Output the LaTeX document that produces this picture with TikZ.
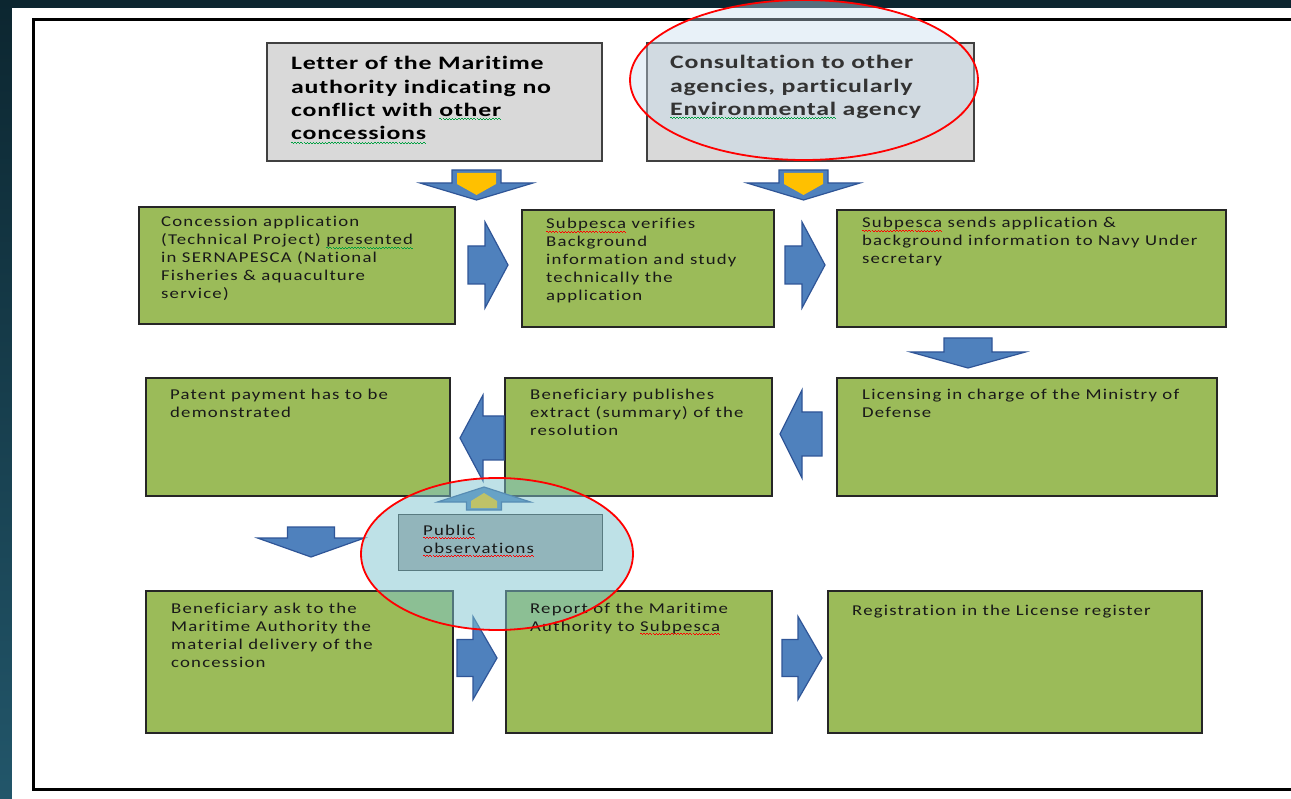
\documentclass[tikz,border=0pt]{standalone}
\usepackage{fontspec}
\setmainfont{Carlito}
\newfontfamily\boxfont[FakeStretch=1.25,LetterSpace=8,Ligatures=NoCommon]{Carlito}
\newfontfamily\headfont[FakeStretch=1.36,LetterSpace=4,Ligatures=NoCommon]{Carlito}
\newcommand\wavy[2]{\setbox0\hbox{#2}\rlap{\color{#1}\lower3pt\hbox to \wd0{\xleaders\hbox to 3pt{\vrule width 1.5pt height 1.1pt depth -0.3pt\vrule width 1.5pt height 0.3pt depth 0.5pt}\hfil}}\box0\relax}
\newcommand\redwave[1]{\wavy{red}{#1}}
\newcommand\greenwave[1]{\wavy{grammargreen}{#1}}
\newcommand\ml[1]{\begin{tabular}[t]{@{}l@{}}#1\end{tabular}}
\definecolor{bgtop}{HTML}{0C2630}
\definecolor{bgbot}{HTML}{22566A}
\definecolor{graybox}{HTML}{D9D9D9}
\definecolor{greenfill}{HTML}{9BBB59}
\definecolor{arrowblue}{HTML}{4F81BD}
\definecolor{arrowedge}{HTML}{2F5597}
\definecolor{arrowyellow}{HTML}{FFC000}
\definecolor{tintone}{HTML}{C6DCEF}
\definecolor{tinttwo}{HTML}{7FC4D0}
\definecolor{pubgray}{HTML}{A6A6A6}
\definecolor{grammargreen}{HTML}{00A040}
\begin{document}
\begin{tikzpicture}[x=1pt,y=-1pt,
  topbox/.style={draw=black!75, line width=1.6pt, fill=graybox, anchor=north west, inner sep=0pt},
  greenbox/.style={draw=black!85, line width=1.6pt, fill=greenfill, anchor=north west, inner sep=0pt},
  pubbox/.style={draw=black!80, line width=1.4pt, fill=pubgray, anchor=north west, inner sep=0pt},
  headtxt/.style={anchor=base west, inner sep=0pt, font=\headfont\bfseries\fontsize{19}{23.3}\selectfont},
  boxtxt/.style={anchor=base west, inner sep=0pt, text=black!90, font=\boxfont\fontsize{15}{18}\selectfont},
  blockarrow/.style={fill=arrowblue, draw=arrowedge, line width=1.2pt, line join=miter},
  yellowpart/.style={fill=arrowyellow, draw=none},
  redring/.style={draw=red, line width=1.8pt},
  pics/varrow/.style args={#1/#2/#3/#4}{code={%
    \path[blockarrow] (-#1,-#2) -- (#1,-#2) -- (#1,0) -- (#3,0) -- (0,#4) -- (-#3,0) -- (-#1,0) -- cycle;}},
  pics/vyellow/.style args={#1/#2/#3}{code={%
    \path[yellowpart] (-#1,-#2) -- (#1,-#2) -- (#1,1) -- (0,#3) -- (-#1,1) -- cycle;}},
  pics/harrow/.style args={#1/#2/#3/#4}{code={%
    \path[blockarrow] (-#2,-#1) -- (0,-#1) -- (0,-#3) -- (#4,0) -- (0,#3) -- (0,#1) -- (-#2,#1) -- cycle;}},
]
\useasboundingbox (0,0) rectangle (1291,799);
% slide background
\shade[top color=bgtop, bottom color=bgbot] (0,0) rectangle (1291,799);
\fill[white] (12,8) rectangle (1291,799);
\draw[line width=3pt] (1291,20) -- (33,20) -- (33,789) -- (1291,789);

% boxes
\node[topbox, minimum width=335pt, minimum height=118pt] (letter) at (266,42) {};
\node[topbox, minimum width=327pt, minimum height=118pt] (consult) at (646,42) {};
\node[greenbox, minimum width=316pt, minimum height=117pt] (apply) at (138,206) {};
\node[greenbox, minimum width=252pt, minimum height=117pt] (verify) at (521,209) {};
\node[greenbox, minimum width=389pt, minimum height=117pt] (sends) at (836,209) {};
\node[greenbox, minimum width=304pt, minimum height=118pt] (patent) at (145,377) {};
\node[greenbox, minimum width=267pt, minimum height=118pt] (publish) at (504,377) {};
\node[greenbox, minimum width=380pt, minimum height=118pt] (license) at (836,377) {};
\node[greenbox, minimum width=307pt, minimum height=142pt] (ask) at (145,590) {};
\node[greenbox, minimum width=266pt, minimum height=142pt] (report) at (505,590) {};
\node[greenbox, minimum width=374pt, minimum height=142pt] (register) at (827,590) {};
\node[pubbox, minimum width=204pt, minimum height=56pt] (public) at (398,514) {};

% block arrows
\pic at (476.5,183) {varrow=24.5/13/56.5/17};
\pic at (476.5,183) {vyellow=19.5/10/12};
\pic at (803.5,183) {varrow=24.5/13/56.5/17};
\pic at (803.5,183) {vyellow=19.5/10/12};
\pic at (485,265) {harrow=19/17/43/23};
\pic at (802,265) {harrow=19/17/43/23};
\pic at (968,352) {varrow=24/14/57.5/16};
\pic[rotate=180] at (483,438) {harrow=22/21/43/23};
\pic[rotate=180] at (802,434) {harrow=22/20/44/22};
\pic[rotate=180] at (484,502) {varrow=17.5/8/46.5/15};
\pic[rotate=180] at (484,502) {vyellow=13/6/9};
\pic at (311,538) {varrow=23.5/11/53.5/19};
\pic at (473,658) {harrow=18.5/16/41.5/24};
\pic at (798,658) {harrow=18.5/16/41.5/24};

% highlight tints
\fill[tintone, fill opacity=0.4] (804,80) ellipse [x radius=174, y radius=80];
\fill[tinttwo, fill opacity=0.5] (497,554) ellipse [x radius=136, y radius=76];

% texts
\node[headtxt] (lettertxt) at (291,70) {\ml{Letter of the Maritime\\authority indicating no\\conflict with \greenwave{other}\\\greenwave{concessions}}};
\node[headtxt, text=black!80] (consulttxt) at (670,69) {\ml{Consultation to other\\agencies, particularly\\\greenwave{Environmental} agency}};
\node[boxtxt] (applytxt) at (161,227) {\ml{Concession application\\(Technical Project) \greenwave{presented}\\in SERNAPESCA (National\\Fisheries \& aquaculture\\service)}};
\node[boxtxt] (verifytxt) at (546,229) {\ml{\redwave{Subpesca} verifies\\Background\\information and study\\technically the\\application}};
\node[boxtxt] (sendstxt) at (862,228) {\ml{\redwave{Subpesca} sends application \&\\background information to Navy Under\\secretary}};
\node[boxtxt] (patenttxt) at (170,400) {\ml{Patent payment has to be\\demonstrated}};
\node[boxtxt] (publishtxt) at (530,400) {\ml{Beneficiary publishes\\extract (summary) of the\\resolution}};
\node[boxtxt] (licensetxt) at (862,400) {\ml{Licensing in charge of the Ministry of\\Defense}};
\node[boxtxt] (asktxt) at (171,613) {\ml{Beneficiary ask to the\\Maritime Authority the\\material delivery of the\\concession}};
\node[boxtxt] (reporttxt) at (530,613) {\ml{Report of the Maritime\\Authority to \redwave{Subpesca}}};
\node[boxtxt] (registertxt) at (852,615) {Registration in the License register};
\node[boxtxt] (publictxt) at (423,535) {\ml{\redwave{Public}\\\redwave{observations}}};

% red rings
\draw[redring] (804,80) ellipse [x radius=174, y radius=80];
\draw[redring] (497,554) ellipse [x radius=136, y radius=76];
\end{tikzpicture}
\end{document}
